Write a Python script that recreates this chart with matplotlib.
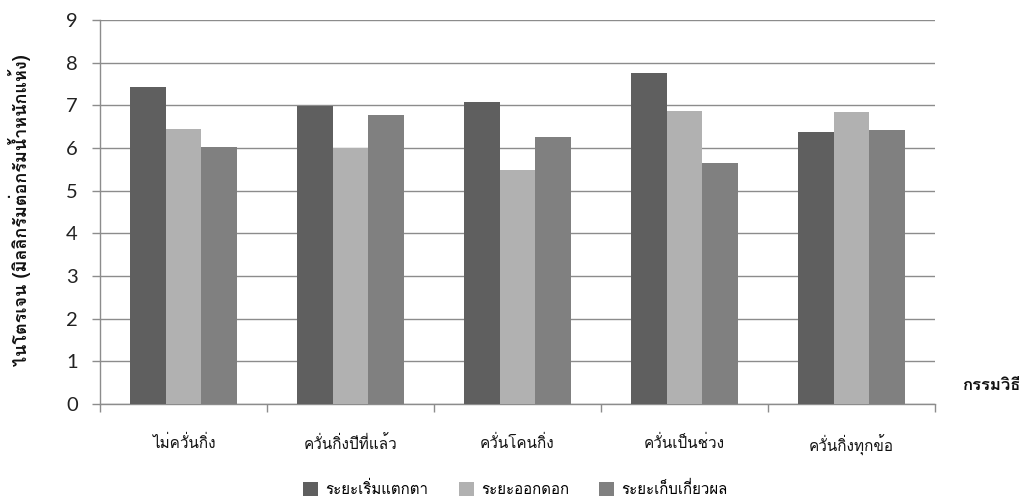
import matplotlib
matplotlib.use("Agg")
import matplotlib.pyplot as plt
import numpy as np

# Treatments (x categories) and nitrogen content per growth stage
categories = ["ไม่ควั่นกิ่ง", "ควั่นกิ่งปีที่แล้ว", "ควั่นโคนกิ่ง", "ควั่นเป็นช่วง", "ควั่นกิ่งทุกข้อ"]
series_names = ["ระยะเริ่มแตกตา", "ระยะออกดอก", "ระยะเก็บเกี่ยวผล"]
bud_break = [7.44, 6.99, 7.07, 7.76, 6.37]
flowering = [6.44, 6.00, 5.48, 6.87, 6.84]
harvest = [6.03, 6.77, 6.26, 5.64, 6.42]
y_ticks = [0, 1, 2, 3, 4, 5, 6, 7, 8, 9]

y_label = "ไนโตรเจน (มิลลิกรัมต่อกรัมน้ำหนักแห้ง)"
x_label = "กรรมวิธี"

colors = ["#5f5f5f", "#b1b1b1", "#808080"]
axis_gray = "#8c8c8c"
thai = ["Loma", "DejaVu Sans"]
nums = ["Lato", "DejaVu Sans"]

W, H = 1030, 500
fig = plt.figure(figsize=(W / 100, H / 100), dpi=100)
ax = fig.add_axes([100 / W, 96 / H, 835 / W, 384 / H])

x = np.arange(len(categories))
width = 0.645 / 3
for i, vals in enumerate([bud_break, flowering, harvest]):
    ax.bar(x + (i - 1) * width, vals, width=width, color=colors[i],
           label=series_names[i], zorder=3, linewidth=0)

ax.set_xlim(-0.5, len(categories) - 0.5)
ax.set_ylim(0, 9)
ax.set_yticks(y_ticks)
ax.set_yticklabels([str(v) for v in y_ticks], family=nums, fontsize=14.5, color="#222222")
ax.grid(axis="y", color=axis_gray, linewidth=1.0, zorder=0)

# Category labels centred under each group, tick marks on the boundaries
ax.set_xticks(x)
ax.set_xticklabels(categories, family=thai, fontsize=11, color="#111111")
ax.tick_params(axis="x", which="major", length=0, pad=22)
ax.set_xticks(np.arange(-0.5, len(categories)), minor=True)
ax.tick_params(axis="x", which="minor", length=6, color=axis_gray, width=1)
ax.tick_params(axis="y", length=6, color=axis_gray, width=1, pad=10)

for side in ["top", "right"]:
    ax.spines[side].set_visible(False)
for side in ["left", "bottom"]:
    ax.spines[side].set_color(axis_gray)
    ax.spines[side].set_linewidth(1.0)

fig.text(20 / W, 1 - 210 / H, y_label, rotation=90, ha="center", va="center",
         family=thai, fontsize=13, fontweight="bold", color="#111111")
fig.text(962 / W, 1 - 385 / H, x_label, ha="left", va="center",
         family=thai, fontsize=12, fontweight="bold", color="#111111")

anchor = [531 / W, 0.1]
leg = fig.legend(loc="center", bbox_to_anchor=tuple(anchor), ncol=3,
                 frameon=False, prop={"family": thai, "size": 10.8}, borderpad=0.1,
                 handlelength=1.0, handleheight=1.0, handletextpad=0.5, columnspacing=2.0)

# Place the legend so its first colour key sits near the bottom edge, left edge at x=303 px
fig.canvas.draw()
renderer = fig.canvas.get_renderer()
key = leg.legend_handles[0].get_window_extent(renderer)
dy = 11 - (key.y0 + key.y1) / 2
dx = 303 - key.x0
anchor = [anchor[0] + dx / W, anchor[1] + dy / H]
leg.set_bbox_to_anchor(tuple(anchor), transform=fig.transFigure)

fig.savefig("out.png", dpi=100)
